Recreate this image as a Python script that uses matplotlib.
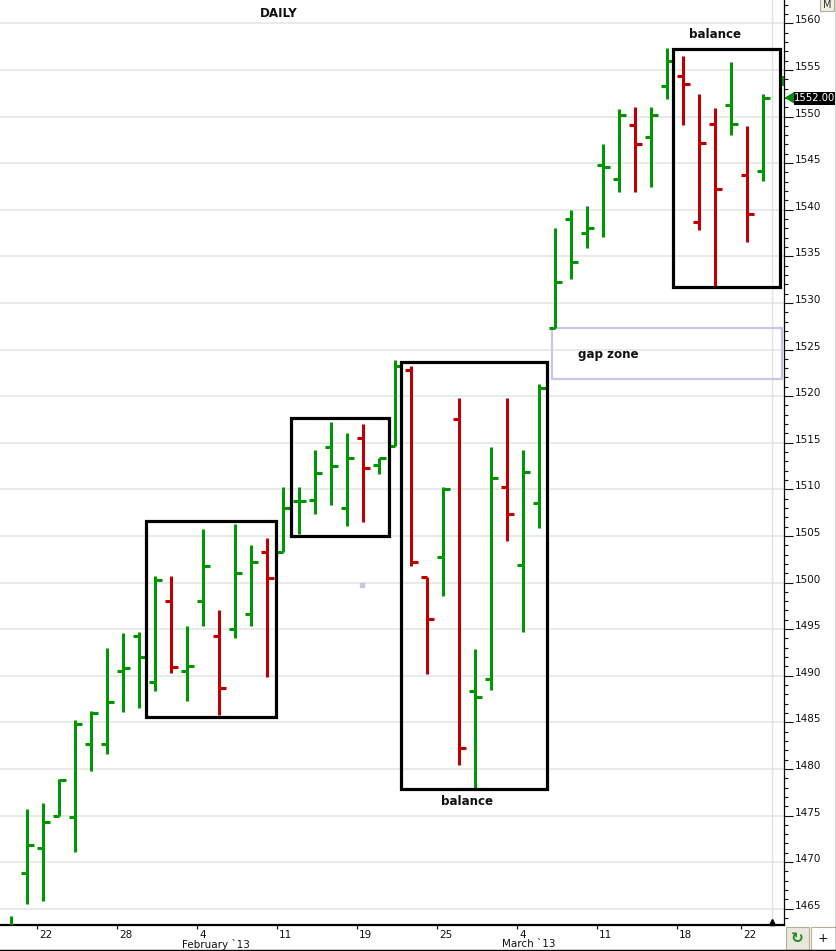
import numpy as np
import matplotlib
matplotlib.use("Agg")
import matplotlib.pyplot as plt
from matplotlib.patches import Rectangle, Polygon
from matplotlib.lines import Line2D

# ---------------- data ----------------
opens = [1461.0, 1468.8, 1471.5, 1475.0, 1474.8, 1482.7, 1482.7, 1490.5, 1494.3, 1489.3,
         1498.0, 1490.5, 1498.0, 1494.3, 1495.05, 1496.6, 1503.25, 1503.25, 1508.7, 1508.9,
         1514.5, 1507.95, 1515.5, 1512.65, 1514.65, 1522.8, 1500.6, 1502.7, 1517.5, 1488.4,
         1489.7, 1510.2, 1501.9, 1508.5, 1527.3, 1539.0, 1537.5, 1544.8, 1543.3, 1549.1,
         1547.8, 1553.3, 1554.3, 1538.7, 1549.2, 1551.2, 1543.7, 1544.2]
highs = [1464.2, 1475.75, 1476.3, 1478.9, 1485.3, 1486.2, 1493.0, 1494.55, 1494.7, 1500.75,
         1500.75, 1495.3, 1505.75, 1497.0, 1506.3, 1504.0, 1504.75, 1510.2, 1510.2, 1514.2,
         1517.2, 1516.0, 1517.0, 1513.4, 1523.9, 1523.2, 1500.6, 1510.2, 1519.75, 1492.9,
         1514.5, 1519.75, 1514.2, 1521.25, 1538.0, 1540.0, 1540.4, 1547.0, 1550.8, 1551.0,
         1551.0, 1557.3, 1556.5, 1552.45, 1550.95, 1555.8, 1549.0, 1552.45]
lows = [1459.0, 1465.55, 1465.85, 1475.0, 1471.1, 1479.8, 1481.65, 1486.1, 1486.55, 1488.4,
        1490.3, 1487.3, 1495.35, 1485.8, 1494.05, 1495.35, 1489.9, 1503.25, 1505.2, 1507.3,
        1508.3, 1506.05, 1506.5, 1511.6, 1514.65, 1501.8, 1490.2, 1498.5, 1480.4, 1477.9,
        1488.45, 1504.5, 1494.7, 1505.8, 1527.3, 1532.6, 1535.85, 1537.1, 1541.9, 1541.9,
        1542.4, 1551.85, 1549.05, 1537.8, 1531.8, 1548.0, 1536.5, 1543.05]
closes = [1462.5, 1471.8, 1474.25, 1478.8, 1484.8, 1486.05, 1487.2, 1490.8, 1492.05, 1500.3,
          1490.95, 1491.05, 1501.8, 1488.7, 1501.0, 1502.2, 1500.45, 1507.95, 1508.7, 1511.7,
          1512.45, 1513.4, 1512.25, 1513.4, 1523.2, 1502.2, 1496.1, 1510.0, 1482.2, 1487.7,
          1511.2, 1507.4, 1511.9, 1520.9, 1532.2, 1534.4, 1538.0, 1544.55, 1550.2, 1547.0,
          1550.2, 1556.0, 1553.5, 1547.2, 1542.2, 1549.2, 1539.5, 1552.0]

date_labels = ['22', '28', '4', '11', '19', '25', '4', '11', '18', '22']
date_bar_index = [2, 7, 12, 17, 22, 27, 32, 37, 42, 46]
month_labels = {'February `13': 12, 'March `13': 32}

# annotation boxes: (x0, x1) in bar units, (p0, p1) in price
boxes_x = [(8.42, 16.56), (17.46, 23.61), (24.375, 33.46), (41.34, 48.04)]
boxes_p = [(1485.54, 1506.63), (1504.99, 1517.62), (1477.81, 1523.69), (1531.74, 1557.27)]
gap_x = (33.8, 48.2)
gap_p = (1521.8, 1527.27)
last_price = 1552.00

GREEN = '#009600'
RED = '#c00000'

W, H = 837, 951
fig = plt.figure(figsize=(W / 100, H / 100), dpi=100)
fig.patch.set_facecolor('white')

ax_left_px, ax_right_px, ax_top_px, ax_bottom_px = 0, 784.3, 0, 925.3
ax = fig.add_axes([ax_left_px / W, 1 - ax_bottom_px / H,
                   (ax_right_px - ax_left_px) / W, (ax_bottom_px - ax_top_px) / H])
ax.set_xlim(-0.70625, 48.3125)
ax.set_ylim(1463.22, 1562.5)

for s in ['top', 'left']:
    ax.spines[s].set_visible(False)
ax.spines['bottom'].set_linewidth(1.6)
ax.spines['right'].set_linewidth(0.9)

# grid
for p in np.arange(1465, 1561, 5):
    ax.axhline(p, color='#e4e4e4', lw=1.1, zorder=0)
ax.axvline(47.56, color='#e2e2e2', lw=1.0, zorder=0)

# OHLC bars
x = np.arange(len(opens))
colors = []
for i in range(len(closes)):
    if i == 0 or closes[i] >= closes[i - 1]:
        colors.append(GREEN)
    else:
        colors.append(RED)
lw = 2.2
tk = 0.42
ax.vlines(x, lows, highs, colors=colors, lw=lw, zorder=3)
ax.hlines(opens, x - tk, x, colors=colors, lw=lw, zorder=3)
ax.hlines(closes, x, x + tk, colors=colors, lw=lw, zorder=3)

# boxes
for (x0, x1), (p0, p1) in zip(boxes_x, boxes_p):
    ax.add_patch(Rectangle((x0, p0), x1 - x0, p1 - p0, fill=False,
                           edgecolor='black', lw=2.3, zorder=4, joinstyle='miter'))
ax.add_patch(Rectangle((gap_x[0], gap_p[0]), gap_x[1] - gap_x[0], gap_p[1] - gap_p[0],
                       fill=False, edgecolor='#c8c5e6', lw=1.6, zorder=2, clip_on=False))

# small artifact dot
ax.plot([21.91], [1499.74], marker='s', ms=3, color='#c8c5e6', zorder=2)

# texts
bold = dict(fontsize=8.6, fontweight='bold', color='#111111', family='DejaVu Sans')
ax.text(16.73, 1561.0, 'DAILY', ha='center', va='center', **bold)
ax.text(44.01, 1558.85, 'balance', ha='center', va='center', **bold)
ax.text(28.51, 1476.45, 'balance', ha='center', va='center', **bold)
ax.text(37.34, 1524.45, 'gap zone', ha='center', va='center', **bold)

# y axis on right
ax.yaxis.tick_right()
ax.set_yticks(np.arange(1465, 1561, 5))
ax.set_yticks(np.arange(1464, 1563, 1), minor=True)
ax.tick_params(axis='y', which='major', direction='out', length=6.8, width=0.8,
               labelsize=7.5, pad=0.8, colors='#111111')
ax.tick_params(axis='y', which='minor', direction='out', length=3.2, width=0.8, colors='#111111')
ax.set_yticklabels([str(v) for v in np.arange(1465, 1561, 5)])
for lbl in ax.get_yticklabels():
    lbl.set_verticalalignment('baseline')

# x axis ticks
tick_pos = [i - 0.375 for i in date_bar_index]
ax.set_xticks(tick_pos)
ax.set_xticklabels([])
ax.tick_params(axis='x', direction='out', length=3.2, width=0.9, colors='#111111')
for pos, lab in zip(tick_pos, date_labels):
    ax.annotate(lab, xy=(pos, 0), xycoords=('data', 'axes fraction'),
                xytext=(1.4, -3.3), textcoords='offset points',
                ha='left', va='top', fontsize=7.5, color='#111111', annotation_clip=False)
for lab, bi in month_labels.items():
    ax.annotate(lab, xy=(bi - 0.375, 0), xycoords=('data', 'axes fraction'),
                xytext=(-11.3, -9.6), textcoords='offset points',
                ha='left', va='top', fontsize=7.5, color='#111111', annotation_clip=False)

# black triangle marker at bottom
ax.plot([47.56], [0.0035], marker='^', ms=5, color='black',
        transform=ax.get_xaxis_transform(), clip_on=False, zorder=5)


def fx(px):
    return px / W


def fy(py):
    return 1 - py / H


tf = fig.transFigure
# small green segment at right edge
fig.add_artist(Rectangle((fx(782.0), fy(86)), fx(2.3), 10 / H, transform=tf,
                         facecolor=GREEN, edgecolor='none'))
# last price marker
fig.add_artist(Polygon([(fx(784.5), fy(97.8)), (fx(794), fy(92)), (fx(794), fy(103.5))],
                       closed=True, transform=tf, facecolor='#0a8a0a', edgecolor='none'))
fig.add_artist(Rectangle((fx(793.7), fy(104.5)), fx(41.6), 12.5 / H, transform=tf,
                         facecolor='black', edgecolor='none'))
fig.text(fx(814.8), fy(98.2), f'{last_price:.2f}', ha='center', va='center',
         color='white', fontsize=7.2)

# borders
fig.add_artist(Line2D([0, 1], [fy(950.3), fy(950.3)], transform=tf, color='black', lw=1.0))
fig.add_artist(Line2D([fx(836.3), fx(836.3)], [0, 1], transform=tf, color='#222222', lw=1.0))

# "M" button
fig.add_artist(Rectangle((fx(820.3), fy(11)), fx(14), 12 / H, transform=tf,
                         facecolor='#f1eee4', edgecolor='#b5ae93', lw=0.8))
fig.text(fx(827.3), fy(4.8), 'M', ha='center', va='center', fontsize=7, color='#333333')

# bottom-right buttons
fig.add_artist(Rectangle((fx(786), fy(950)), fx(23.3), 23 / H, transform=tf,
                         facecolor='#e9e7dc', edgecolor='#b5ae93', lw=0.8))
fig.text(fx(797.6), fy(938.5), '\u21bb', ha='center', va='center', fontsize=11,
         color='#1c8a1c', fontweight='bold')
fig.add_artist(Rectangle((fx(810.7), fy(950)), fx(25.3), 23 / H, transform=tf,
                         facecolor='white', edgecolor='#b5ae93', lw=0.8))
fig.text(fx(823.3), fy(938.5), '+', ha='center', va='center', fontsize=9, color='#111111')

fig.savefig('out.png', dpi=100, facecolor='white')
